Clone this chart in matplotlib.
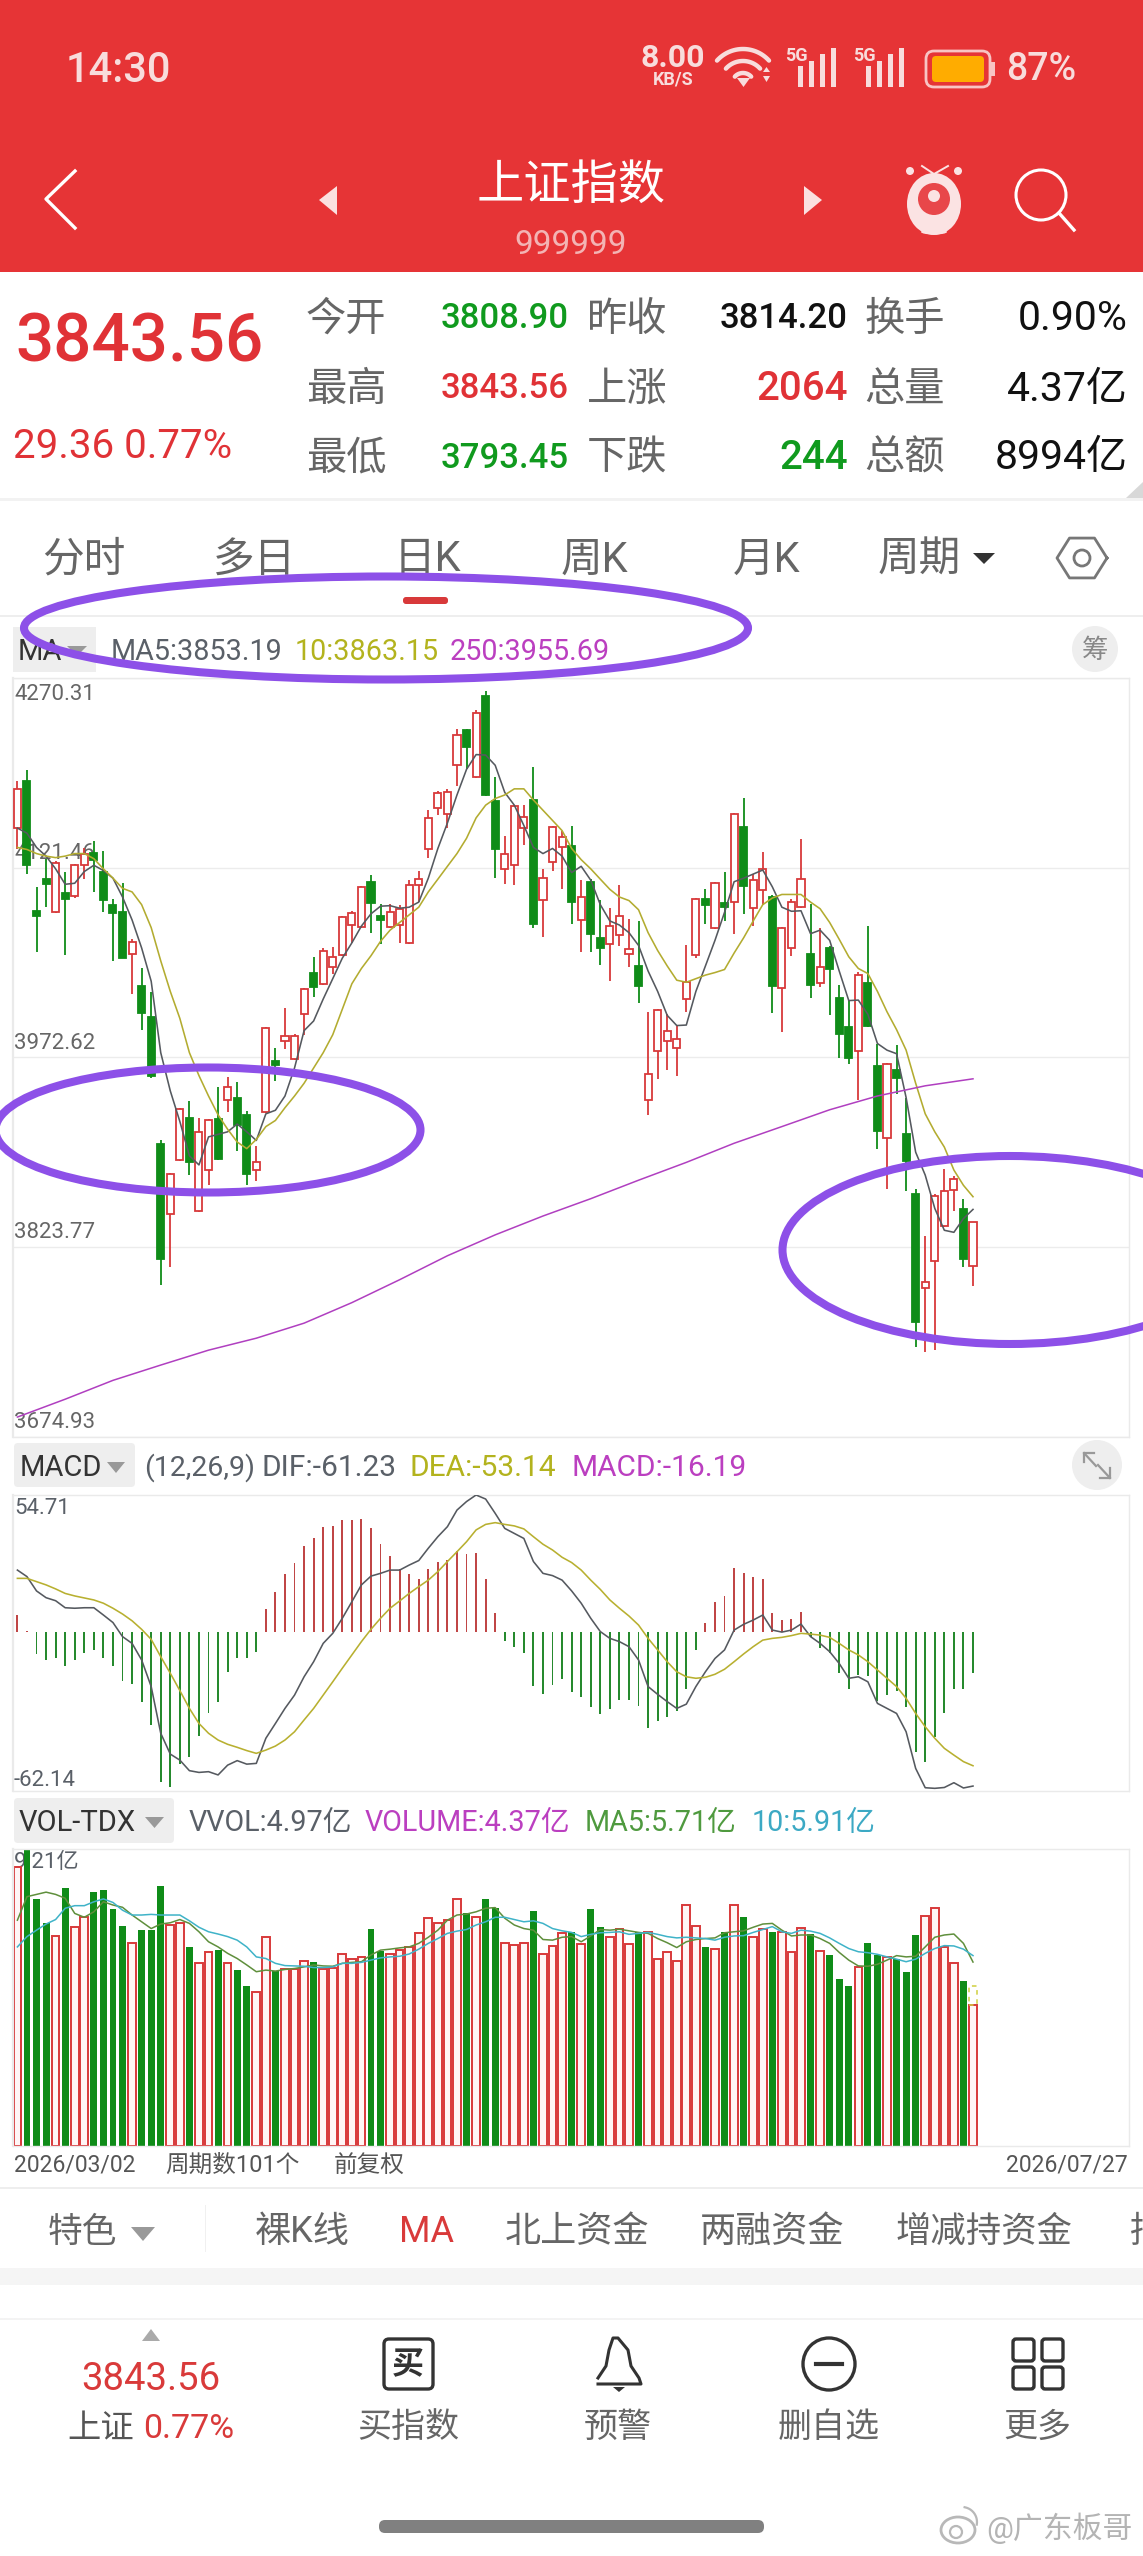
import numpy as np
import matplotlib
matplotlib.use("Agg")
import matplotlib.pyplot as plt
from matplotlib.patches import Rectangle, Ellipse, FancyBboxPatch, Circle, Polygon

plt.rcParams['font.family'] = ['Roboto', 'Noto Sans CJK SC', 'DejaVu Sans']

# ---- daily candles of the index, oldest first ----
opens = [4152.5,4189.4,4087.2,4112.4,4086.4,4101.2,4098.8,4123.7,4133.3,4118.4,
 4092.4,4086.4,4053.6,4028.3,4004.3,3904.9,3849.6,3892.1,3925.0,3852.1,
 3884.1,3924.2,3939.4,3941.0,3927.4,3884.1,3929.8,3969.4,3985.1,3971.0,
 4006.3,4039.1,4029.9,4043.5,4053.1,4076.4,4075.2,4110.4,4083.2,4075.2,
 4076.4,4062.0,4107.6,4135.7,4168.5,4163.7,4201.8,4229.4,4192.6,4255.9,
 4173.7,4120.5,4123.3,4152.5,4174.5,4096.4,4125.7,4137.3,4138.5,4080.4,
 4110.4,4066.4,4061.6,4068.4,4053.6,4044.3,3939.4,3977.8,3985.4,3980.2,
 4018.3,4053.1,4097.2,4074.4,4094.0,4094.4,4153.3,4089.6,4103.6,4098.4,
 4027.1,4058.4,4090.4,4054.0,4031.1,4058.4,4019.5,3996.3,3977.8,4030.7,
 3965.4,3909.3,3963.0,3912.1,3865.3,3791.6,3812.8,3840.0,3868.1,3853.2,3808.90]
closes = [4183.0,4123.7,4083.2,4108.4,4125.3,4097.2,4123.3,4132.5,4127.7,4096.4,
 4085.6,4050.4,4063.2,4007.1,3958.2,3814.0,3881.3,3932.2,3890.1,3914.1,
 3923.4,3892.9,3949.0,3919.4,3880.9,3890.1,3995.5,3966.2,3989.1,3989.1,
 4026.3,4027.5,4056.4,4051.5,4082.4,4085.6,4106.4,4093.6,4080.4,4086.4,
 4089.2,4107.6,4112.4,4160.5,4179.7,4180.5,4225.4,4215.8,4243.0,4178.5,
 4135.7,4132.1,4169.7,4161.3,4077.6,4113.2,4153.3,4145.3,4094.4,4098.4,
 4069.2,4058.4,4075.6,4083.2,4057.6,4028.3,3959.8,4009.9,3993.1,3987.1,
 4031.5,4097.2,4092.4,4109.2,4090.8,4163.7,4107.2,4111.6,4120.5,4028.3,
 4074.4,4094.4,4112.4,4029.5,4043.5,4041.9,3991.1,3971.8,4037.5,3997.5,
 3914.9,3967.4,3956.2,3891.3,3764.7,3796.4,3864.1,3867.3,3877.3,3814.20,3843.56]
highs = [4189.4,4197.8,4106.4,4128.5,4126.5,4118.4,4124.5,4136.5,4142.5,4134.5,
 4097.2,4109.2,4065.2,4042.3,4023.5,3907.3,3882.1,3933.0,3938.2,3925.0,
 3924.2,3949.0,3957.0,3953.4,3930.2,3903.3,3996.3,3980.2,4011.5,3991.1,
 4027.1,4051.1,4058.4,4059.2,4083.2,4087.6,4107.2,4115.6,4093.2,4093.2,
 4092.4,4111.6,4119.2,4166.5,4181.3,4183.3,4230.6,4230.6,4245.4,4259.9,
 4192.6,4146.5,4170.5,4170.5,4200.6,4120.5,4154.5,4150.5,4154.5,4111.6,
 4112.4,4096.4,4089.6,4107.6,4081.2,4079.2,4008.3,4010.7,4006.3,3998.3,
 4060.4,4098.0,4104.4,4110.0,4118.0,4164.5,4176.5,4116.4,4133.7,4099.6,
 4075.2,4097.2,4143.7,4093.2,4074.4,4059.6,4029.1,4017.1,4039.5,4075.6,
 3983.4,3968.2,3982.2,3941.0,3869.3,3832.0,3864.9,3884.9,3879.3,3861.6,3843.56]
lows = [4135.7,4116.4,4055.6,4090.4,4085.6,4053.1,4098.0,4112.4,4102.4,4086.4,
 4048.3,4050.4,4022.3,3994.3,3956.2,3793.9,3808.0,3891.3,3880.1,3851.2,
 3872.1,3892.1,3929.4,3899.3,3872.1,3875.3,3929.0,3954.2,3979.4,3970.2,
 3990.3,4020.3,4029.1,4038.3,4052.3,4062.4,4074.4,4070.4,4061.6,4074.4,
 4062.4,4061.2,4094.4,4129.3,4162.5,4152.5,4185.4,4198.6,4191.8,4177.7,
 4113.6,4108.4,4107.6,4139.3,4074.4,4067.2,4119.2,4104.4,4077.2,4055.6,
 4055.6,4045.1,4032.3,4059.6,4043.1,4015.1,3927.4,3955.4,3963.0,3958.2,
 4008.3,4050.4,4077.6,4073.6,4079.2,4069.6,4085.2,4075.6,4092.4,4007.5,
 3992.3,4052.3,4089.6,4019.5,4027.5,4005.5,3972.2,3967.4,3939.4,3996.3,
 3900.9,3869.3,3943.4,3867.3,3745.1,3741.1,3743.1,3839.2,3852.1,3808.0,3793.45]

ma5 = [4152.5,4148.5,4137.3,4130.5,4120.5,4108.4,4109.2,4118.4,4123.3,4119.2,
 4113.2,4098.4,4080.4,4058.4,4032.3,3976.2,3946.2,3922.2,3895.3,3888.1,
 3910.1,3912.1,3914.1,3920.2,3914.1,3907.3,3928.2,3931.0,3942.2,3964.2,
 3993.5,4001.1,4018.3,4034.3,4050.4,4062.4,4075.6,4085.2,4091.2,4091.6,4089.6,
 4090.4,4094.4,4113.2,4136.5,4156.5,4178.5,4198.6,4210.2,4209.8,4201.8,
 4180.5,4170.5,4154.5,4137.3,4132.5,4136.5,4130.5,4117.6,4122.5,4111.6,
 4092.4,4079.6,4076.4,4070.4,4060.4,4040.3,4024.3,4005.5,3997.5,3997.9,
 4024.3,4044.3,4064.4,4086.4,4110.4,4113.2,4116.4,4119.6,4106.4,4090.4,4087.2,
 4087.6,4069.6,4072.4,4064.4,4040.3,4017.1,4017.5,4006.3,3983.4,3978.2,
 3975.4,3941.0,3898.1,3880.1,3854.0,3836.8,3835.2,3846.0,3853.19]
ma10 = [4137.3,4135.7,4132.5,4130.5,4129.3,4130.5,4132.5,4132.5,4128.5,4120.5,
 4113.2,4105.2,4102.4,4092.4,4074.4,4048.3,4024.3,4003.1,3976.2,3958.2,
 3942.2,3927.4,3916.1,3906.1,3900.9,3908.1,3918.2,3923.0,3933.0,3942.2,
 3952.2,3964.2,3976.2,3990.3,4010.3,4030.3,4042.3,4052.3,4063.6,4072.4,4078.4,
 4084.4,4090.4,4102.4,4112.4,4122.5,4132.5,4144.5,4160.5,4170.5,4175.7,
 4178.5,4183.3,4183.3,4174.5,4166.5,4158.5,4150.5,4136.5,4127.7,4120.5,
 4112.4,4104.4,4098.4,4095.6,4088.4,4070.4,4056.4,4044.3,4033.1,4031.5,
 4034.3,4037.1,4039.1,4041.5,4054.4,4066.4,4079.6,4092.4,4097.6,4100.4,4100.4,
 4100.4,4094.4,4089.2,4078.4,4065.2,4051.5,4042.3,4038.3,4024.3,4008.3,
 3994.3,3978.2,3952.2,3928.2,3914.1,3902.1,3884.1,3872.1,3863.15]
ma250_idx = [0,5,10,15,20,25,30,35,40,45,50,55,60,65,70,75,80,85,90,95,100]
ma250 = [3690.2,3704.2,3719.0,3731.0,3742.7,3752.1,3763.9,3780.0,3798.0,3816.8,
 3833.2,3848.0,3861.6,3876.1,3890.1,3905.1,3918.2,3931.4,3942.2,3950.2,3955.69]
price_ticks = [4270.31, 4121.46, 3972.62, 3823.77, 3674.93]

# ---- MACD(12,26,9) ----
macd_hist = [6.9,0.7,-8.6,-11.0,-10.4,-13.3,-11.0,-8.1,-7.0,-10.4,-13.3,-19.3,-20.6,
 -27.6,-36.9,-59.5,-61.5,-52.6,-49.5,-41.2,-32.0,-27.9,-15.7,-10.4,-10.4,-8.0,
 9.3,16.2,23.2,27.5,34.4,37.7,42.1,42.4,44.8,44.8,45.2,41.4,35.3,30.4,25.1,23.1,
 21.2,25.1,28.2,28.8,32.5,31.2,31.7,21.2,7.7,
 -3.5,-5.7,-8.4,-21.4,-24.6,-21.0,-18.7,-23.9,-25.9,-29.6,-32.7,-30.7,-27.0,-27.0,
 -29.2,-38.2,-35.3,-33.6,-31.3,-22.4,-7.0,
 3.6,12.0,14.6,25.5,23.5,21.9,21.1,7.6,4.9,5.4,8.0,
 -2.0,-6.1,-8.4,-16.3,-22.6,-17.0,-17.4,-27.2,-25.0,-23.2,-29.9,-47.5,-51.5,-41.6,
 -32.3,-22.6,-22.6,-16.19]
dif = [24.8,22.2,16.5,13.8,12.6,9.8,9.6,9.8,9.8,6.9,3.9,-1.7,-4.4,-11.0,-21.6,-40.2,
 -48.5,-50.9,-55.1,-55.8,-55.5,-56.8,-52.9,-51.1,-52.5,-52.2,-42.2,-36.3,-30.3,-25.0,
 -17.7,-11.7,-4.4,-0.4,5.6,12.2,18.9,22.4,23.5,24.8,24.8,26.8,28.6,33.5,38.1,42.1,
 48.7,52.1,54.71,53.1,47.4,41.4,39.4,37.4,28.2,23.5,22.6,20.8,16.5,11.6,5.6,0.3,-2.4,
 -3.7,-5.7,-11.0,-21.6,-24.7,-27.6,-30.3,-28.6,-21.6,-15.7,-10.4,-7.0,0.9,3.2,4.9,6.9,
 0.9,0.1,0.9,3.3,-1.7,-4.4,-7.7,-12.4,-18.3,-17.7,-19.7,-28.3,-30.3,-32.3,-39.6,-54.2,
 -61.9,-62.14,-61.8,-59.9,-62.0,-61.23]
dea = [21.5,21.5,20.2,18.9,17.3,15.5,14.5,13.7,12.9,11.6,9.6,7.3,4.6,1.2,-2.8,-9.7,
 -16.3,-23.2,-30.3,-36.3,-40.2,-42.9,-44.6,-45.8,-47.1,-48.2,-46.9,-45.3,-42.9,-39.6,
 -34.9,-30.3,-25.0,-19.7,-14.3,-9.0,-3.7,1.2,5.6,9.6,12.5,15.5,18.2,20.8,24.2,28.2,
 32.1,36.1,40.8,43.0,43.7,43.0,42.4,41.2,38.1,35.1,32.8,29.9,27.8,24.8,20.8,17.1,12.9,
 9.6,6.5,2.9,-2.4,-7.0,-11.7,-15.7,-17.7,-18.3,-17.9,-16.7,-14.7,-11.7,-8.6,-5.7,-3.1,
 -2.4,-2.0,-1.3,-0.4,-0.7,-1.1,-2.0,-4.4,-7.0,-9.0,-11.7,-15.0,-18.3,-21.6,-26.3,-32.3,
 -37.6,-42.2,-46.2,-48.9,-51.5,-53.14]

# ---- turnover, in 亿 shares ----
volume = [8.67,9.21,7.67,6.93,6.53,8.02,6.81,7.10,7.89,7.96,7.36,6.83,6.29,6.70,6.70,
 8.07,6.86,6.93,6.18,5.67,6.01,6.08,5.69,5.46,4.96,4.78,6.50,5.44,5.49,5.49,5.74,5.72,
 5.49,5.51,5.95,5.80,5.87,6.73,6.06,5.95,6.08,6.18,6.62,7.07,6.91,7.01,7.68,7.22,7.10,
 7.67,7.38,6.31,6.23,6.29,7.30,5.95,6.21,6.60,6.63,6.27,7.35,6.79,6.48,6.73,6.27,6.63,
 6.63,5.81,6.03,5.74,7.48,6.84,6.18,6.13,6.63,7.49,7.12,6.50,6.75,6.63,6.63,6.03,6.78,
 6.58,6.06,5.93,5.17,4.98,5.56,6.31,5.93,5.87,5.79,5.39,6.54,7.15,7.40,6.18,5.67,5.11,4.37]
vol_ma5 = [7.01,7.74,7.81,7.88,7.81,7.69,7.22,7.10,7.27,7.58,7.48,7.41,7.17,6.96,6.75,
 6.89,6.93,7.03,6.91,6.65,6.34,6.18,5.98,5.82,5.62,5.41,5.46,5.43,5.48,5.51,5.56,5.62,
 5.59,5.58,5.67,5.70,5.72,5.93,6.08,6.11,6.15,6.18,6.29,6.48,6.70,7.01,7.17,7.20,7.27,
 7.38,7.40,7.07,6.86,6.75,6.70,6.41,6.39,6.48,6.50,6.34,6.52,6.72,6.70,6.73,6.68,6.63,
 6.60,6.44,6.31,6.16,6.34,6.41,6.44,6.46,6.62,6.65,6.68,6.79,6.89,6.91,6.70,6.52,6.55,
 6.55,6.44,6.29,6.01,5.77,5.59,5.58,5.64,5.77,5.91,5.87,5.89,6.18,6.48,6.55,6.58,6.29,5.71]
vol_ma10 = [6.18,6.50,6.70,6.89,7.03,7.38,7.46,7.46,7.58,7.67,7.56,7.32,7.17,7.17,7.19,
 7.17,7.17,7.17,6.99,6.79,6.65,6.58,6.50,6.39,6.18,5.87,5.82,5.67,5.60,5.59,5.58,5.54,
 5.54,5.56,5.67,5.67,5.70,5.77,5.84,5.87,5.89,5.96,6.11,6.29,6.44,6.60,6.67,6.72,6.86,
 6.96,7.10,7.10,7.03,6.96,6.99,6.91,6.75,6.68,6.63,6.50,6.57,6.62,6.63,6.65,6.57,6.60,
 6.63,6.57,6.50,6.46,6.48,6.46,6.44,6.39,6.48,6.52,6.53,6.63,6.72,6.81,6.65,6.60,6.70,
 6.67,6.60,6.46,6.29,6.13,6.03,6.00,5.95,5.87,5.80,5.72,5.80,5.98,6.13,6.22,6.21,6.11,5.91]
vvol_last = 4.97

RED = '#d8393a'
GREEN = '#0f8c18'
HDR = '#e63436'
W, H = 1143, 2556

fig = plt.figure(figsize=(W / 100, H / 100), dpi=100, facecolor='white')


def pane(left, top, right, bottom, z=2):
    return fig.add_axes([left / W, 1 - bottom / H, (right - left) / W, (bottom - top) / H], zorder=z)


ui = pane(0, 0, W, H, z=0)
ui.set_xlim(0, W)
ui.set_ylim(H, 0)
ui.axis('off')


def T(x, y, s, size, color='#666666', ha='left', weight='normal', z=3):
    ui.text(x, y + 3, s, fontsize=size, color=color, ha=ha, va='center', fontweight=weight, zorder=z)


def box(x0, y0, x1, y1, color, z=1):
    ui.add_patch(Rectangle((x0, y0), x1 - x0, y1 - y0, facecolor=color, edgecolor='none', zorder=z))


def rbox(x0, y0, x1, y1, r, fc='none', ec='none', lw=0, z=2):
    ui.add_patch(FancyBboxPatch((x0 + r, y0 + r), x1 - x0 - 2 * r, y1 - y0 - 2 * r,
                                boxstyle=f'round,pad={r},rounding_size={r}', fc=fc, ec=ec, lw=lw, zorder=z))


# status bar and title bar
box(0, 0, W, 272, HDR)
T(66, 67, '14:30', 30, '#f8dcdc', weight='medium')
T(641, 55, '8.00', 23, '#f8dcdc', weight='bold')
T(673, 77, 'KB/S', 13, '#f8dcdc', ha='center', weight='bold')
th = np.linspace(np.radians(222), np.radians(318), 30)
for r in (35, 23, 11):
    ui.plot(743 + r * np.cos(th), 84 + r * np.sin(th), color='#f8dcdc', lw=3.2, solid_capstyle='round', zorder=3)
ui.add_patch(Polygon([[737, 78], [750, 78], [743.5, 87]], fc='#f8dcdc', ec='none', zorder=3))
ui.add_patch(Polygon([[763, 72], [770, 72], [766.5, 67]], fc='#f8dcdc', ec='none', zorder=3))
ui.add_patch(Polygon([[763, 76], [770, 76], [766.5, 82]], fc='#f8dcdc', ec='none', zorder=3))
for x0 in (787, 855):
    T(x0 + 9, 53, '5G', 13, '#f8dcdc', ha='center', weight='bold')
    for k, top in enumerate((66, 61, 54, 48)):
        box(x0 + 11 + k * 11, top, x0 + 16 + k * 11, 87, '#f8dcdc', z=3)
rbox(926, 51, 990, 87, 8, fc='none', ec='#f8c4c4', lw=2)
rbox(932, 56, 984, 82, 4, fc='#ffac00', z=3)
box(991, 62, 995, 76, '#f8c4c4')
T(1006, 66, '87%', 27, '#f8dcdc', weight='medium')
ui.plot([75, 46, 75], [171, 199, 228], color='white', lw=2.4, zorder=3)
ui.add_patch(Polygon([[337, 186], [337, 215], [319, 200]], fc='#fbe0e0', ec='none', zorder=3))
ui.add_patch(Polygon([[804, 186], [804, 215], [822, 200]], fc='#fbe0e0', ec='none', zorder=3))
T(571, 183, '上证指数', 34, 'white', ha='center')
T(571, 242, '999999', 24, '#f3b4b4', ha='center')
ui.add_patch(Ellipse((934, 204), 54, 62, fc='#fbe3e3', ec='none', zorder=3))
ui.add_patch(Circle((934, 199), 16, fc='#e8474a', ec='none', zorder=4))
ui.add_patch(Circle((934, 196), 6, fc='#fbe3e3', ec='none', zorder=5))
ui.add_patch(Circle((910, 171), 4, fc='#fbe3e3', ec='none', zorder=3))
ui.add_patch(Circle((958, 171), 4, fc='#fbe3e3', ec='none', zorder=3))
ui.plot([922, 934, 948], [166, 174, 166], color='#fbe3e3', lw=1.4, zorder=3)
ui.add_patch(Ellipse((934, 232), 26, 5, fc='#fbe3e3', ec='none', zorder=3))
ui.add_patch(Circle((1041, 195), 25, fc='none', ec='white', lw=2.2, zorder=3))
ui.plot([1059, 1074], [213, 230], color='white', lw=2.4, zorder=3)

# quote summary
T(15, 341, '3843.56', 48.5, '#e03236', weight='medium')
T(13, 443, '29.36 0.77%', 29, '#e03236')
for y, lab1, val1, c1, lab2, val2, c2, lab3, val3 in (
        (316, '今开', '3808.90', '#109a1e', '昨收', '3814.20', '#111111', '换手', '0.90%'),
        (386, '最高', '3843.56', '#e03236', '上涨', '2064', '#e03236', '总量', '4.37亿'),
        (455, '最低', '3793.45', '#109a1e', '下跌', '244', '#109a1e', '总额', '8994亿')):
    T(306, y, lab1, 29)
    T(569, y, val1, 25, c1, ha='right', weight='medium')
    T(587, y, lab2, 29)
    big = val2 in ('2064', '244')
    T(848, y, val2, 29 if big else 25, c2, ha='right', weight='medium')
    T(864, y, lab3, 29)
    T(1128, y, val3, 29.5, '#111111', ha='right')
box(0, 498, W, 501, '#f2f2f2')
ui.add_patch(Polygon([[1143, 482], [1143, 498], [1126, 498]], fc='#d8d8d8', ec='none', zorder=2))

# period tabs
for x, s in ((42, '分时'), (213, '多日'), (394, '日K'), (561, '周K'), (733, '月K'), (878, '周期')):
    T(x, 557, s, 30, '#666666')
ui.add_patch(Polygon([[973, 553], [995, 553], [984, 564]], fc='#333333', ec='none', zorder=3))
ang = np.radians(np.arange(0, 361, 60))
ui.plot(1082 + 25 * np.cos(ang), 558 + 23 * np.sin(ang), color='#777777', lw=2, zorder=3)
ui.add_patch(Circle((1082, 558), 8, fc='none', ec='#777777', lw=2, zorder=3))
rbox(403, 597, 448, 604, 3, fc=RED)
box(0, 615, W, 617, '#eeeeee')

# moving average legend
box(13, 627, 96, 672, '#eeeeee')
T(18, 649, 'MA', 21, '#333333')
ui.add_patch(Polygon([[67, 646], [87, 646], [77, 656]], fc='#999999', ec='none', zorder=4))
T(111, 649, 'MA5:3853.19', 20.7, '#5a6068')
T(295, 649, '10:3863.15', 20.7, '#b3b31e')
T(450, 649, '250:3955.69', 20.7, '#bb3fc0')
ui.add_patch(Circle((1095, 649), 23, fc='#eeeeee', ec='none', zorder=2))
T(1095, 648, '筹', 19, '#888888', ha='center')

# MACD legend
rbox(14, 1443, 135, 1487, 4, fc='#eeeeee')
T(20, 1465, 'MACD', 21, '#333333')
ui.add_patch(Polygon([[107, 1462], [125, 1462], [116, 1473]], fc='#999999', ec='none', zorder=4))
T(144, 1465, '(12,26,9)', 20.5, '#5a6068')
T(262, 1465, 'DIF:-61.23', 21.5, '#5a6068')
T(410, 1465, 'DEA:-53.14', 21.5, '#b3b31e')
T(572, 1465, 'MACD:-16.19', 21.5, '#bb3fc0')
ui.add_patch(Circle((1097, 1465), 25, fc='#eeeeee', ec='none', zorder=2))
for a, b, c, d in ((1084, 1453, 1096, 1466), (1110, 1478, 1098, 1465)):
    ui.plot([a, c], [b, d], color='#999999', lw=1.6, zorder=3)
ui.plot([1084, 1084, 1094], [1462, 1453, 1453], color='#999999', lw=1.6, zorder=3)
ui.plot([1110, 1110, 1100], [1468, 1478, 1478], color='#999999', lw=1.6, zorder=3)

# volume legend
rbox(14, 1798, 174, 1843, 4, fc='#eeeeee')
T(19, 1820, 'VOL-TDX', 21, '#333333')
ui.add_patch(Polygon([[145, 1817], [164, 1817], [154.5, 1828]], fc='#999999', ec='none', zorder=4))
T(189, 1820, 'VVOL:4.97亿', 20.7, '#5a6068')
T(365, 1820, 'VOLUME:4.37亿', 20.7, '#bb3fc0')
T(585, 1820, 'MA5:5.71亿', 20.7, '#4f9a3f')
T(752, 1820, '10:5.91亿', 20.7, '#3ca9c4')

# footer of the chart area
T(14, 2162, '2026/03/02', 16.5, '#555555')
T(165, 2162, '周期数101个', 17, '#555555')
T(334, 2162, '前复权', 17, '#555555')
T(1128, 2162, '2026/07/27', 16.5, '#555555', ha='right')
box(0, 2187, W, 2189, '#eeeeee')

# indicator shortcuts
T(48, 2229, '特色', 25, '#666666')
ui.add_patch(Polygon([[131, 2227], [155, 2227], [143, 2241]], fc='#999999', ec='none', zorder=3))
box(205, 2205, 206, 2252, '#f0f0f0')
T(255, 2229, '裸K线', 26, '#666666')
T(399, 2229, 'MA', 26, '#d93a3a')
T(505, 2229, '北上资金', 26, '#666666')
T(700, 2229, '两融资金', 26, '#666666')
T(896, 2229, '增减持资金', 25.5, '#666666')
T(1130, 2229, '持', 26, '#666666')
box(0, 2268, W, 2285, '#f5f5f5')
box(0, 2318, W, 2320, '#f3f3f3')

# bottom toolbar
ui.add_patch(Polygon([[142, 2341], [160, 2341], [151, 2329]], fc='#aaaaaa', ec='none', zorder=3))
T(151, 2377, '3843.56', 27.5, '#d93a3a', ha='center')
T(67, 2426, '上证', 24, '#555555')
T(143, 2426, '0.77%', 24.5, '#d93a3a')
rbox(384, 2339, 433, 2389, 5, ec='#333333', lw=2.4)
T(408, 2362, '买', 23, '#333333', ha='center', weight='bold')
T(408, 2425, '买指数', 24.5, '#666666', ha='center')
bell_x = np.array([598, 606, 609, 613, 618, 628, 631, 639, 641, 598])
bell_y = np.array([2378, 2366, 2350, 2338, 2338, 2350, 2366, 2378, 2384, 2384])
ui.plot(bell_x, bell_y, color='#333333', lw=2.2, zorder=3)
ui.add_patch(Polygon([[613, 2387], [625, 2387], [619, 2392]], fc='#333333', ec='none', zorder=3))
T(618, 2425, '预警', 24.5, '#666666', ha='center')
ui.add_patch(Circle((829, 2364), 26, fc='none', ec='#333333', lw=2.4, zorder=3))
ui.plot([816, 842], [2364, 2364], color='#333333', lw=3, zorder=3)
T(829, 2425, '删自选', 24.5, '#666666', ha='center')
for x0, y0 in ((1013, 2339), (1042, 2339), (1013, 2367), (1042, 2367)):
    rbox(x0, y0, x0 + 21, y0 + 22, 3, ec='#333333', lw=2.4)
T(1037, 2425, '更多', 24.5, '#666666', ha='center')
rbox(379, 2520, 764, 2533, 6, fc='#808080')
ui.add_patch(Ellipse((958, 2530), 34, 26, fc='none', ec='#b8b8b8', lw=2, zorder=3))
ui.add_patch(Circle((956, 2532), 6, fc='none', ec='#b8b8b8', lw=1.6, zorder=3))
th2 = np.linspace(np.radians(-80), np.radians(10), 12)
ui.plot(962 + 15 * np.cos(th2), 2522 + 15 * np.sin(th2), color='#b8b8b8', lw=1.6, zorder=3)
T(986, 2525, '@广东板哥', 21.5, '#b4b4b4')

# ---- candlestick panel ----
x = np.arange(len(closes))
xlim = ((13 - 17.4) / 9.556, (1129 - 17.4) / 9.556)
up = np.array(closes) >= np.array(opens)
colors = [RED if u else GREEN for u in up]


def frame(ax):
    ax.set_facecolor('none')
    ax.set_xlim(*xlim)
    ax.set_xticks([])
    for name, sp in ax.spines.items():
        sp.set_color('#eaeaea')
        sp.set_linewidth(1.6 if name == 'left' else 1.0)


price = pane(13, 678, 1129, 1436.5)
frame(price)
price.set_ylim(price_ticks[-1], price_ticks[0])
price.set_yticks(price_ticks)
price.tick_params(axis='y', length=0, labelleft=False)
price.grid(axis='y', color='#ececec', lw=1)
price.set_axisbelow(True)
for i, v in enumerate(price_ticks):
    dy, va = (-4, 'top') if i == 0 else (2.5, 'bottom')
    price.annotate(f'{v:.2f}', (0, v), xycoords=price.get_yaxis_transform(), xytext=(1, dy),
                   textcoords='offset points', fontsize=16, color='#666666', va=va, zorder=1)
price.vlines(x, lows, highs, colors=colors, lw=1.3, zorder=2)
body_low = np.minimum(opens, closes)
body_h = np.abs(np.array(closes) - np.array(opens))
price.bar(x, body_h, bottom=body_low, width=0.74,
          color=['white' if u else GREEN for u in up], edgecolor=colors, linewidth=1.3, zorder=3)
price.plot(x, ma5, color='#55595f', lw=1.15, zorder=4)
price.plot(x, ma10, color='#b3ac30', lw=1.15, zorder=4)
price.plot(ma250_idx, ma250, color='#b03fc0', lw=1.1, zorder=4)

# ---- MACD panel ----
macd = pane(13, 1495, 1129, 1791)
frame(macd)
macd.set_ylim(-63.2, 54.71)
macd.set_yticks([])
for v, yy in ((54.71, 1506), (-62.14, 1778)):
    T(14, yy, f'{v:.2f}', 16, '#5a6068')
hist_c = ['#c04646' if h >= 0 else '#268a2e' for h in macd_hist]
macd.bar(x, macd_hist, width=0.2, color=hist_c, zorder=2)
macd.plot(x, dif, color='#55595f', lw=1.15, zorder=3)
macd.plot(x, dea, color='#b8b030', lw=1.15, zorder=3)

# ---- volume panel ----
vol = pane(13, 1849.3, 1129, 2146)
frame(vol)
vol.set_ylim(0, 9.21)
vol.set_yticks([])
T(14, 1860, '9.21亿', 16, '#5a6068')
vol_arr = np.array(volume)
vol.bar(x[up], vol_arr[up], width=0.8, color='#fff6f6', edgecolor=RED, linewidth=1.4, zorder=2)
vol.bar(x[~up], vol_arr[~up], width=0.72, color=GREEN, linewidth=0, zorder=2)
vol.bar(x[-1], vvol_last - volume[-1], bottom=volume[-1], width=0.8, facecolor='none',
        edgecolor='#cfcf40', linewidth=1.1, linestyle=(0, (3, 3)), zorder=2)
vol.plot(x, vol_ma5, color='#5f8f3c', lw=1.1, zorder=3)
vol.plot(x, vol_ma10, color='#3fb3c8', lw=1.1, zorder=3)

# ---- hand-drawn highlight rings ----
marks = pane(0, 0, W, H, z=5)
marks.set_xlim(0, W)
marks.set_ylim(H, 0)
marks.axis('off')
for cx, cy, w, h in ((386, 628, 724, 103), (208, 1130, 425, 125), (1010, 1250, 455, 188)):
    marks.add_patch(Ellipse((cx, cy), w, h, fc='none', ec='#8d50e8', lw=5.8))

fig.savefig('out.png', dpi=100, facecolor='white')
